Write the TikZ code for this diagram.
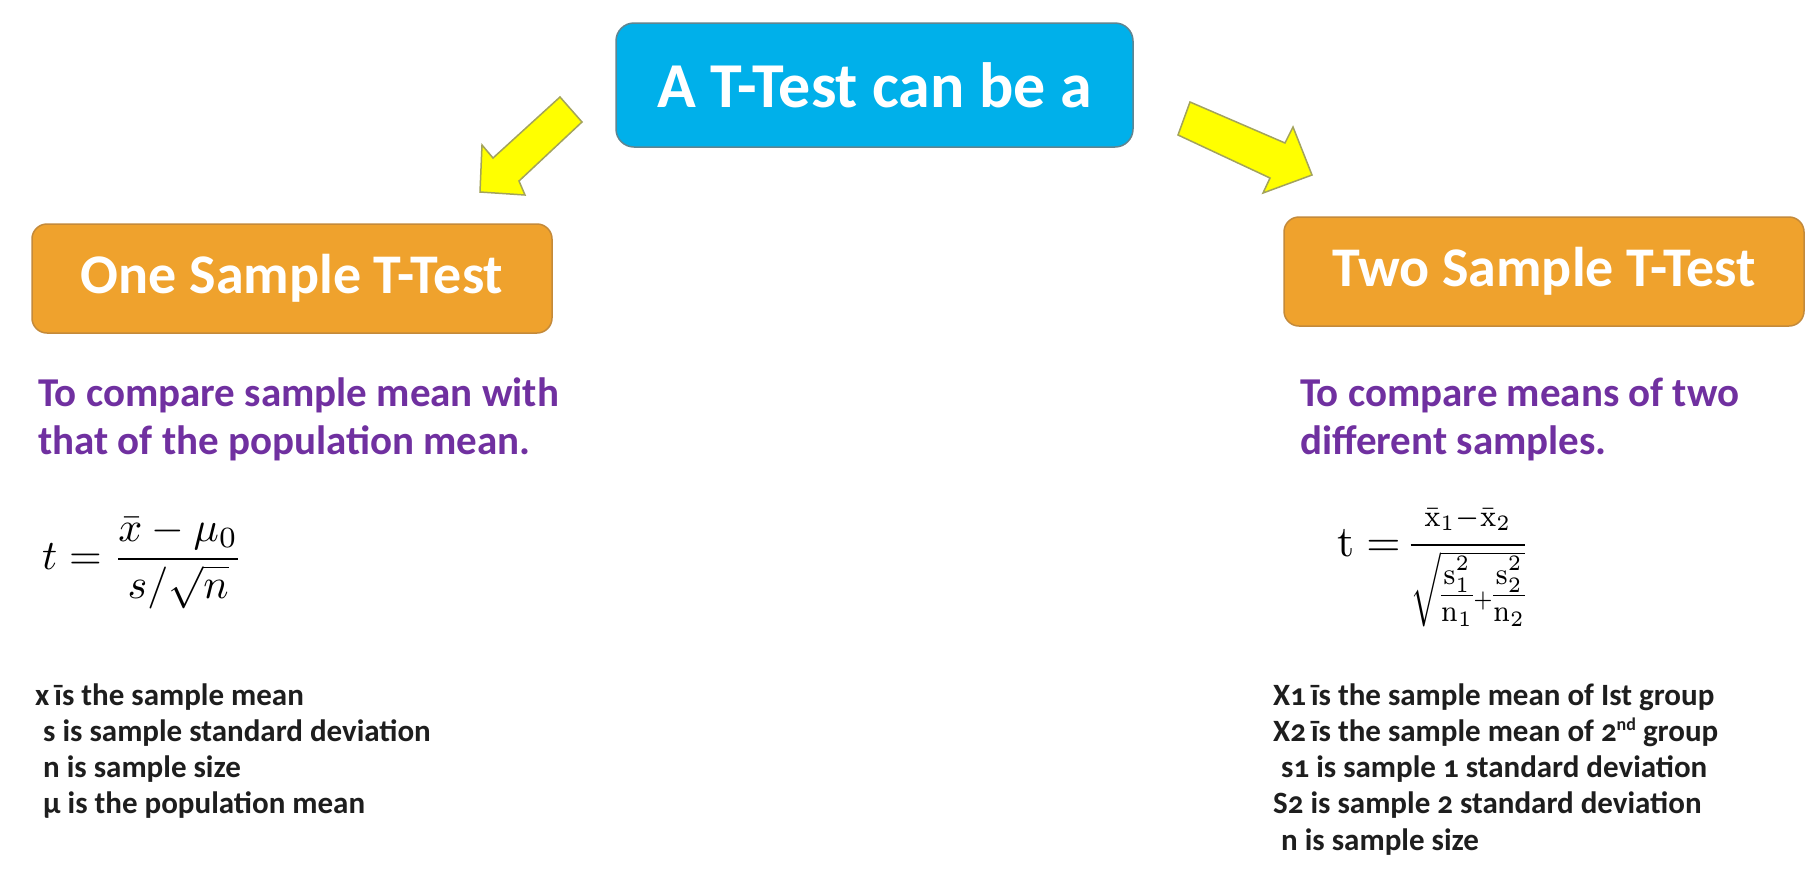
\documentclass[tikz,border=0pt]{standalone}
\usepackage{amsmath}
\usepackage[no-math]{fontspec}
\setmainfont{Carlito}
\newfontfamily\listfont{Carlito}[Numbers=OldStyle]

\definecolor{titlecyan}{HTML}{00B0EA}
\definecolor{titleedge}{HTML}{5F8591}
\definecolor{boxorange}{HTML}{EFA22D}
\definecolor{boxedge}{HTML}{C48A3A}
\definecolor{notepurple}{HTML}{7030A0}
\definecolor{legendgray}{HTML}{1E1E1E}
\definecolor{arrowyellow}{HTML}{FFFF00}
\definecolor{arrowedge}{HTML}{A3A35C}

\newcommand{\pooledfrac}{%
  \frac{\scriptstyle \bar{\mathrm{x}}_1 - \bar{\mathrm{x}}_2}
  {{\scriptstyle\sqrt{\textstyle\frac{\scriptstyle \mathrm{s}_1^2}{\scriptstyle \mathrm{n}_1}
  {\scriptscriptstyle +}\frac{\scriptstyle \mathrm{s}_2^2}{\scriptstyle \mathrm{n}_2}}}}}

\begin{document}
\begin{tikzpicture}[x=1pt,y=-1pt]
\tikzset{
  titlebox/.style={rounded corners=18pt, fill=titlecyan, draw=titleedge, line width=1.5pt,
    minimum width=517pt, minimum height=124pt, inner sep=0pt, text=white,
    font=\bfseries\fontsize{64}{70}\selectfont},
  kindbox/.style={rounded corners=15pt, fill=boxorange, draw=boxedge, line width=1.5pt,
    minimum width=520pt, minimum height=109pt, inner sep=0pt, text=white,
    font=\bfseries\fontsize{56}{60}\selectfont},
  purpose/.style={anchor=base west, inner sep=0pt, text=notepurple,
    font=\bfseries\fontsize{41}{48}\selectfont},
  legend/.style={anchor=base west, inner sep=0pt, text=legendgray,
    font=\listfont\bfseries\fontsize{31}{36}\selectfont},
  formula/.style={anchor=west, inner sep=0pt},
  blockarrow/.style={fill=arrowyellow, draw=arrowedge, line width=1.5pt, line join=miter}
}
\useasboundingbox (0,0) rectangle (1819,879);
\fill[white] (0,0) rectangle (1819,879);

% headline and the two kinds of test
\node[titlebox] (head) at (874.5,85) {A T-Test can be a};
\node[kindbox] (one) at (292,278.5) {One Sample T-Test};
\node[kindbox] (two) at (1544,271.5) {Two Sample T-Test};

% block arrows from the headline towards each kind
\draw[blockarrow] (560,97) -- (582,122) -- (519,181) -- (525,195) -- (480,192)
  -- (482,145) -- (493,158) -- cycle;
\draw[blockarrow] (1190,102) -- (1285,143) -- (1293,127) -- (1312,175) -- (1263,193)
  -- (1270,178) -- (1178,135) -- cycle;

% purposes
\node[purpose] (p1a) at (38,406) {To compare sample mean with};
\node[purpose] (p1b) at (38,454) {that of the population mean.};
\node[purpose] (p2a) at (1300,406) {To compare means of two};
\node[purpose] (p2b) at (1300,454) {different samples.};

% test statistics
\node[formula] (f1) at (42,563) {\scalebox{4.2}{%
  $\displaystyle t = \frac{\bar{x}-\mu_0}{s/\sqrt{n}}$}};
\node[formula] (f2) at (1337,567) {\scalebox{4.4}{\nulldelimiterspace=0pt%
  $\displaystyle \mathrm{t} \mathrel{=}\mkern4mu $\scalebox{0.88}[1]{$\displaystyle\pooledfrac$}}};

% symbols, one sample
\node[legend] (l1) at (35,705) {x\kern5pt īs the sample mean};
\node[legend] (l2) at (43,741) {s is sample standard deviation};
\node[legend] (l3) at (43,777) {n is sample size};
\node[legend] (l4) at (43,813) {μ is the population mean};

% symbols, two samples
\node[legend] (r1) at (1273,705) {X1\kern5pt īs the sample mean of Ist group};
\node[legend] (r2) at (1273,741) {X2\kern5pt īs the sample mean of 2{\fontsize{18}{20}\selectfont\raisebox{11pt}{nd}} group};
\node[legend] (r3) at (1281,777) {s1 is sample 1 standard deviation};
\node[legend] (r4) at (1273,813) {S2 is sample 2 standard deviation};
\node[legend] (r5) at (1281,850) {n is sample size};
\end{tikzpicture}
\end{document}
